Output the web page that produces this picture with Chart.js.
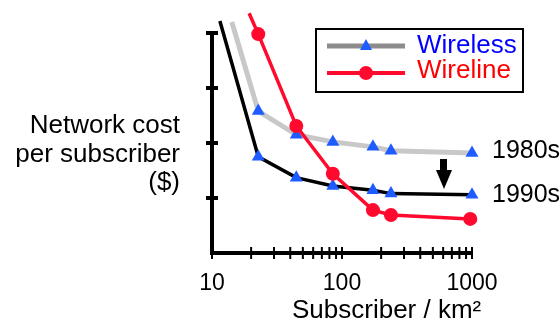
<!DOCTYPE html>
<html>
<head>
<meta charset="utf-8">
<script src="https://cdn.jsdelivr.net/npm/chart.js@4/dist/chart.umd.min.js"></script>
<style>
  body { margin: 0; background: #fff; }
  #wrap { position: relative; width: 560px; height: 325px; font-family: 'Liberation Sans', Arial, sans-serif; }
  #wrap canvas { position: absolute; left: 0; top: 0; }
  .lbl { position: absolute; white-space: nowrap; color: #000; }
</style>
</head>
<body>
<div id="wrap">
  <canvas id="myChart" width="560" height="325"></canvas>
  <div class="lbl" style="right:380px; top:110px; font-size:26px; line-height:28.5px; text-align:right;">Network cost<br>per subscriber<br>($)</div>
  <div class="lbl" style="left:492px; top:137px; font-size:25px; line-height:25px;">1980s</div>
  <div class="lbl" style="left:492px; top:181px; font-size:25px; line-height:25px;">1990s</div>
  <div class="lbl" style="left:417px; top:31px; font-size:26px; line-height:26px; color:#0000ff;">Wireless</div>
  <div class="lbl" style="left:417px; top:56px; font-size:26px; line-height:26px; color:#ff0000;">Wireline</div>
  <div class="lbl" style="left:292px; top:296px; font-size:26px; line-height:26px;">Subscriber / km&sup2;</div>
</div>
<script>
// subscribers per km2 where the markers sit (first point of each line has no marker)
var wireless80X = [14.2, 22.7, 44.5, 85, 173, 238, 1000];
var wireless80 = [4.2, 2.58, 2.15, 2.02, 1.93, 1.86, 1.82];
var wireless90X = [11.5, 22.7, 44.5, 85, 173, 238, 1000];
var wireless90 = [4.22, 1.75, 1.37, 1.22, 1.14, 1.08, 1.06];
var wirelineX = [19.3, 22.7, 44.5, 85, 173, 238, 970];
var wireline = [4.36, 3.98, 2.31, 1.44, 0.78, 0.69, 0.62];
var xTicks = [10, 100, 1000];
var yTicks = [1, 2, 3, 4];

var BLUE = '#1f5cff', RED = '#ff0a2e';

function pts(xs, ys) {
    return xs.map(function (x, i) { return { x: x, y: ys[i] }; });
}
function radii(n, r) {
    var a = [0];
    for (var i = 1; i < n; i++) a.push(r);
    return a;
}

// axes with ticks crossing the line, the legend box and the arrow
var frame = {
    id: 'frame',
    afterDraw: function (chart) {
        var ctx = chart.ctx, xs = chart.scales.x, ys = chart.scales.y;
        var x0 = xs.getPixelForValue(10), x1 = xs.getPixelForValue(1000);
        var y0 = ys.getPixelForValue(0), y4 = ys.getPixelForValue(4);
        ctx.save();
        ctx.strokeStyle = '#000';
        ctx.lineWidth = 4;
        ctx.beginPath();
        ctx.moveTo(x0, y4 - 1); ctx.lineTo(x0, y0 + 2);
        ctx.moveTo(x0 - 2, y0); ctx.lineTo(x1 + 1, y0);
        yTicks.forEach(function (v) {
            var y = ys.getPixelForValue(v);
            ctx.moveTo(x0 - 6, y); ctx.lineTo(x0 + 6, y);
        });
        ctx.stroke();
        ctx.lineWidth = 2;
        ctx.beginPath();
        [10, 100].forEach(function (d) {
            for (var k = 1; k <= 10; k++) {
                var x = xs.getPixelForValue(d * k);
                ctx.moveTo(x, y0 - 6); ctx.lineTo(x, y0 + 6);
            }
        });
        ctx.stroke();

        // legend
        ctx.lineWidth = 2;
        ctx.strokeRect(316, 29, 207, 63);
        ctx.lineWidth = 5;
        ctx.strokeStyle = '#8c8c8c';
        ctx.beginPath(); ctx.moveTo(327, 46); ctx.lineTo(405, 46); ctx.stroke();
        ctx.fillStyle = BLUE;
        ctx.beginPath();
        ctx.moveTo(366, 39); ctx.lineTo(372, 50); ctx.lineTo(360, 50); ctx.closePath(); ctx.fill();
        ctx.lineWidth = 4;
        ctx.strokeStyle = RED;
        ctx.beginPath(); ctx.moveTo(327, 73); ctx.lineTo(405, 73); ctx.stroke();
        ctx.fillStyle = RED;
        ctx.beginPath(); ctx.arc(366, 73, 7, 0, Math.PI * 2); ctx.fill();

        // arrow 1980s -> 1990s
        ctx.fillStyle = '#000';
        ctx.fillRect(440, 159, 7, 13);
        ctx.beginPath();
        ctx.moveTo(436, 170); ctx.lineTo(452, 170); ctx.lineTo(444, 189); ctx.closePath(); ctx.fill();
        ctx.restore();
    }
};

const GRAPH = document.getElementById('myChart');
const lineChart = new Chart(GRAPH, {
    type: 'line',
    data: {
        datasets: [{
            label: 'Wireline',
            data: pts(wirelineX, wireline),
            borderColor: RED,
            backgroundColor: RED,
            borderWidth: 3.5,
            pointStyle: 'circle',
            pointRadius: radii(wireline.length, 7),
            pointBorderWidth: 0,
            clip: false
        }, {
            label: 'Wireless 1990s',
            data: pts(wireless90X, wireless90),
            borderColor: '#000',
            backgroundColor: BLUE,
            borderWidth: 3.5,
            pointStyle: 'triangle',
            pointRadius: radii(wireless90.length, 7.5),
            pointBorderWidth: 0,
            clip: false
        }, {
            label: 'Wireless 1980s',
            data: pts(wireless80X, wireless80),
            borderColor: '#c8c8c8',
            backgroundColor: BLUE,
            borderWidth: 5,
            pointStyle: 'triangle',
            pointRadius: radii(wireless80.length, 7.5),
            pointBorderWidth: 0,
            clip: false
        }]
    },
    options: {
        responsive: false,
        animation: false,
        layout: { padding: { left: 212, right: 88, top: 33, bottom: 0 } },
        plugins: { legend: { display: false }, tooltip: { enabled: false } },
        elements: { line: { tension: 0 } },
        scales: {
            x: {
                type: 'logarithmic',
                min: 10,
                max: 1000,
                afterBuildTicks: function (s) {
                    s.ticks = xTicks.map(function (v) { return { value: v }; });
                },
                afterFit: function (s) { s.height = 72; },
                grid: { display: false },
                border: { display: false },
                ticks: {
                    autoSkip: false,
                    maxRotation: 0,
                    padding: 9,
                    color: '#000',
                    font: { family: "'Liberation Sans', Arial, sans-serif", size: 23 },
                    callback: function (v) { return String(v); }
                }
            },
            y: {
                display: false,
                min: 0,
                max: 4
            }
        }
    },
    plugins: [frame]
});
</script>
</body>
</html>
